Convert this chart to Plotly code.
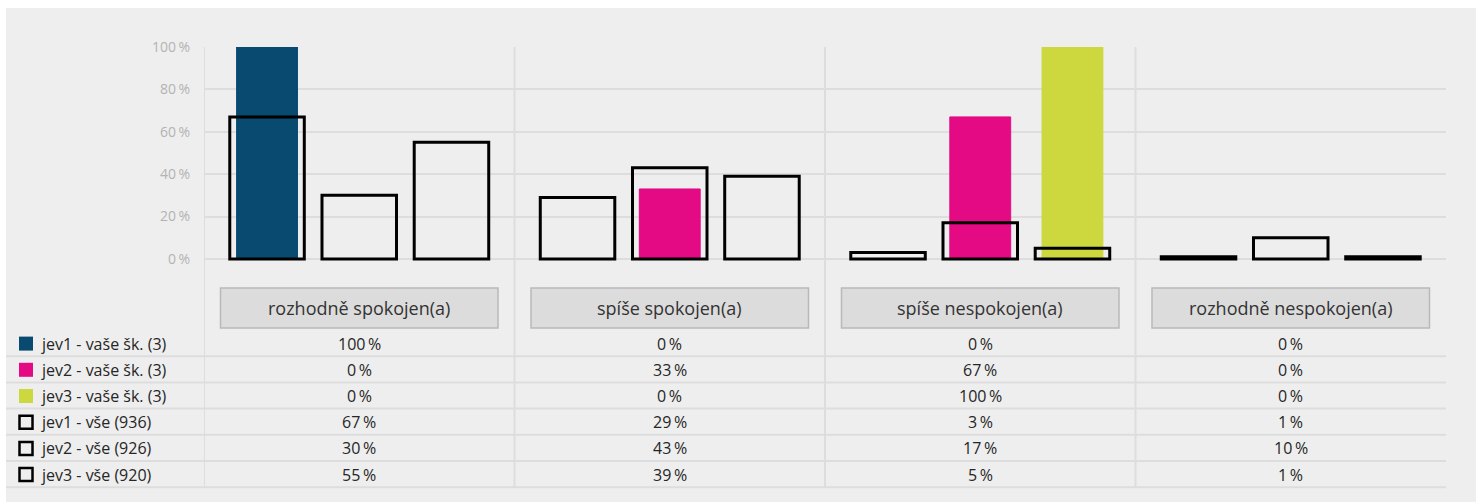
import plotly.graph_objects as go

# ---- data -------------------------------------------------------------
categories = ["rozhodně spokojen(a)", "spíše spokojen(a)",
              "spíše nespokojen(a)", "rozhodně nespokojen(a)"]

school_names = ["jev1 - vaše šk. (3)", "jev2 - vaše šk. (3)", "jev3 - vaše šk. (3)"]
all_names = ["jev1 - vše (936)", "jev2 - vše (926)", "jev3 - vše (920)"]

jev1_school = [100, 0, 0, 0]
jev2_school = [0, 33, 67, 0]
jev3_school = [0, 0, 100, 0]

jev1_all = [67, 29, 3, 1]
jev2_all = [30, 43, 17, 10]
jev3_all = [55, 39, 5, 1]

y_ticks = [0, 20, 40, 60, 80, 100]

# ---- styling ----------------------------------------------------------
W, H = 1476, 502
ML, MR, MT, MB = 204, 30, 47, 241
PLOT_W = W - ML - MR
PLOT_H = H - MT - MB

BG = "#eeeeee"
GRID = "#dddddd"
TEXT = "#262626"
FONT = "Open Sans"
school_colors = ["#084a70", "#e30a84", "#cdd83f"]

SLOT = 0.297          # distance between bars of one category
FILL_W = 0.196        # width of the school bars
OUTLINE_W = 0.24      # width of the "all schools" outline bars

ROW_TOP = 330         # table geometry in pixels
ROW_H = 26.2
TABLE_RIGHT = 1446


def fx(px):
    """pixel x -> paper x"""
    return (px - ML) / PLOT_W


def fy(py):
    """pixel y -> paper y"""
    return (H - MB - py) / PLOT_H


fig = go.Figure()

school_series = [jev1_school, jev2_school, jev3_school]
all_series = [jev1_all, jev2_all, jev3_all]

for k, (vals, color, name) in enumerate(zip(school_series, school_colors, school_names)):
    fig.add_trace(go.Bar(
        x=categories, y=vals, name=name,
        width=FILL_W, offset=(k - 1) * SLOT - FILL_W / 2,
        marker=dict(color=color, line=dict(color=color, width=1)),
        showlegend=False, hoverinfo="skip",
    ))

for k, (vals, name) in enumerate(zip(all_series, all_names)):
    fig.add_trace(go.Bar(
        x=categories, y=vals, name=name,
        width=OUTLINE_W, offset=(k - 1) * SLOT - OUTLINE_W / 2,
        marker=dict(color="rgba(0,0,0,0)", line=dict(color="#000000", width=3)),
        showlegend=False, hoverinfo="skip",
    ))

shapes = []
annotations = []

# white strips framing the grey panel
shapes.append(dict(type="rect", xref="paper", yref="paper", layer="below",
                   x0=fx(0), x1=fx(W), y0=fy(0), y1=fy(8),
                   fillcolor="#ffffff", line=dict(width=0)))
shapes.append(dict(type="rect", xref="paper", yref="paper", layer="below",
                   x0=fx(0), x1=fx(6), y0=fy(0), y1=fy(H),
                   fillcolor="#ffffff", line=dict(width=0)))

# column separators running through chart and table
row_bottom = ROW_TOP + 6 * ROW_H
for i in range(len(categories)):
    shapes.append(dict(type="line", xref="x", yref="paper", layer="below",
                       x0=i - 0.5, x1=i - 0.5, y0=fy(MT), y1=fy(row_bottom),
                       line=dict(color=GRID, width=2)))

# table row separators
for r in range(6):
    yy = fy(ROW_TOP + (r + 1) * ROW_H)
    shapes.append(dict(type="line", xref="paper", yref="paper", layer="below",
                       x0=fx(6), x1=fx(TABLE_RIGHT), y0=yy, y1=yy,
                       line=dict(color=GRID, width=2)))

# category header boxes
col_px = PLOT_W / len(categories)
inset = 16.5 / col_px
for i, cat in enumerate(categories):
    shapes.append(dict(type="rect", xref="x", yref="paper", layer="below",
                       x0=i - 0.5 + inset, x1=i + 0.5 - inset,
                       y0=fy(328), y1=fy(288),
                       fillcolor="#dcdcdc", line=dict(color="#b9b9b9", width=1.5)))
    annotations.append(dict(xref="x", yref="paper", x=i, y=fy(308),
                            text=cat, showarrow=False,
                            font=dict(family=FONT, size=18, color="#333333"),
                            xanchor="center", yanchor="middle"))

# table rows: legend key + values
rows = [(school_names[k], school_series[k], "fill", school_colors[k]) for k in range(3)] + \
       [(all_names[k], all_series[k], "outline", "#000000") for k in range(3)]

for r, (name, vals, kind, color) in enumerate(rows):
    cy = ROW_TOP + r * ROW_H + ROW_H / 2 + 0.5
    if kind == "fill":
        shapes.append(dict(type="rect", xref="paper", yref="paper",
                           x0=fx(19), x1=fx(33), y0=fy(cy + 7), y1=fy(cy - 7),
                           fillcolor=color, line=dict(width=0)))
    else:
        shapes.append(dict(type="rect", xref="paper", yref="paper",
                           x0=fx(19.5), x1=fx(32.5), y0=fy(cy + 6.5), y1=fy(cy - 6.5),
                           fillcolor="rgba(0,0,0,0)", line=dict(color="#000000", width=2.5)))
    annotations.append(dict(xref="paper", yref="paper", x=fx(39), y=fy(cy),
                            text=name, showarrow=False,
                            font=dict(family=FONT, size=16, color=TEXT),
                            xanchor="left", yanchor="middle"))
    for i, v in enumerate(vals):
        annotations.append(dict(xref="x", yref="paper", x=i, y=fy(cy),
                                text=f"{v}\u2009%", showarrow=False,
                                font=dict(family=FONT, size=16, color=TEXT),
                                xanchor="center", yanchor="middle"))

fig.update_layout(
    width=W, height=H,
    margin=dict(l=ML, r=MR, t=MT, b=MB, pad=0),
    paper_bgcolor=BG, plot_bgcolor="rgba(0,0,0,0)",
    barmode="overlay",
    font=dict(family=FONT),
    shapes=shapes, annotations=annotations,
    xaxis=dict(type="category", range=[-0.5, len(categories) - 0.5],
               showticklabels=False, showgrid=False, zeroline=False,
               showline=False, ticks=""),
    yaxis=dict(range=[-1, 100], tickvals=y_ticks,
               ticktext=[f"{t}\u2009%" for t in y_ticks],
               tickfont=dict(family=FONT, size=14, color="#b3b3b3"),
               showgrid=True, gridcolor=GRID, gridwidth=2,
               zeroline=False, showline=False, ticks="",
               ticklabelstandoff=13),
)

fig.write_html("out.html")
